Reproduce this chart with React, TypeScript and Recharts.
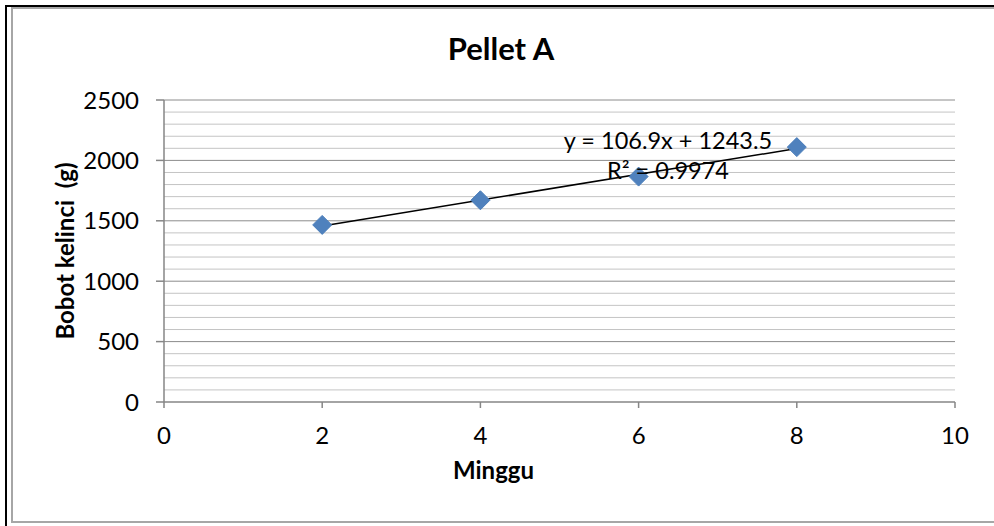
import { ScatterChart, Scatter, XAxis, YAxis, ReferenceLine, Label } from 'recharts'

const weeks = [2, 4, 6, 8]
const weights = [1466, 1670, 1866, 2110]
const xTicks = [0, 2, 4, 6, 8, 10]
const yTicks = [0, 500, 1000, 1500, 2000, 2500]
const yMinorTicks = Array.from({ length: 26 }, (_, i) => i * 100).filter((v) => v % 500 !== 0)

const slope = 106.9
const intercept = 1243.5
const rSquared = 0.9974

const data = weeks.map((w, i) => ({ x: w, y: weights[i] }))
const trendStart = { x: weeks[0], y: slope * weeks[0] + intercept }
const trendEnd = { x: weeks[weeks.length - 1], y: slope * weeks[weeks.length - 1] + intercept }

const FONT = 'Lato, "Open Sans", sans-serif'

function Diamond(props: any) {
  const { cx, cy } = props
  const r = 9.5
  return (
    <path
      d={`M${cx},${cy - r} L${cx + r},${cy} L${cx},${cy + r} L${cx - r},${cy} Z`}
      fill="#4f81bd"
      stroke="#4a7ebb"
      strokeWidth={1}
    />
  )
}

export default function App() {
  return (
    <div style={{ position: 'fixed', left: 0, top: 0, width: 994, height: 526, background: '#fff', fontFamily: FONT, overflow: 'hidden' }}>
      {/* frame */}
      <div style={{ position: 'absolute', left: 5, top: 5, width: 2, height: 521, background: '#000' }} />
      <div style={{ position: 'absolute', left: 7, top: 5, width: 987, height: 2, background: '#000' }} />
      <div style={{ position: 'absolute', left: 11, top: 7, width: 1000, height: 516, border: '2px solid #a6a6a6', boxSizing: 'border-box' }} />

      <div style={{ position: 'absolute', left: 4, top: 29, width: 994, textAlign: 'center', fontSize: 31, fontWeight: 700, color: '#000' }}>
        Pellet A
      </div>

      <div style={{ position: 'absolute', left: 0, top: 0 }}>
        <ScatterChart width={994} height={526} margin={{ top: 100, right: 39, bottom: 0, left: 0 }} style={{ fontFamily: FONT }}>
          {yMinorTicks.map((v) => (
            <ReferenceLine key={`mn-${v}`} y={v} stroke="#c4c4c4" strokeWidth={1} />
          ))}
          {yTicks.slice(1).map((v) => (
            <ReferenceLine key={`mj-${v}`} y={v} stroke="#8c8c8c" strokeWidth={1} />
          ))}
          <XAxis
            type="number"
            dataKey="x"
            domain={[0, 10]}
            ticks={xTicks}
            height={124}
            tickSize={6}
            tickMargin={19}
            axisLine={{ stroke: '#868686', strokeWidth: 1.5 }}
            tickLine={{ stroke: '#868686', strokeWidth: 1.5 }}
            tick={{ fill: '#000', fontSize: 24 }}
          >
            <Label value="Minggu" position="insideTop" offset={60} dx={-66} style={{ fontSize: 24, fontWeight: 700, fill: '#000' }} />
          </XAxis>
          <YAxis
            type="number"
            dataKey="y"
            domain={[0, 2500]}
            ticks={yTicks}
            width={164}
            tickSize={8}
            tickMargin={17}
            axisLine={{ stroke: '#868686', strokeWidth: 1.5 }}
            tickLine={{ stroke: '#868686', strokeWidth: 1.5 }}
            tick={{ fill: '#000', fontSize: 24 }}
          >
            <Label
              value={'Bobot kelinci\u00a0\u00a0(g)'}
              angle={-90}
              position="insideLeft"
              offset={65}
              style={{ fontSize: 24, fontWeight: 700, fill: '#000', textAnchor: 'middle' }}
            />
          </YAxis>
          <Scatter data={data} shape={<Diamond />} isAnimationActive={false} />
          <ReferenceLine segment={[trendStart, trendEnd]} stroke="#000" strokeWidth={1.5} />
        </ScatterChart>
      </div>

      <div style={{ position: 'absolute', left: 668, top: 126, transform: 'translateX(-50%)', fontSize: 23.5, color: '#000', whiteSpace: 'nowrap', lineHeight: '28px' }}>
        y = {slope}x + {intercept}
      </div>
      <div style={{ position: 'absolute', left: 668, top: 156, transform: 'translateX(-50%)', fontSize: 23.5, color: '#000', whiteSpace: 'nowrap', lineHeight: '28px' }}>
        R² = {rSquared}
      </div>
    </div>
  )
}
